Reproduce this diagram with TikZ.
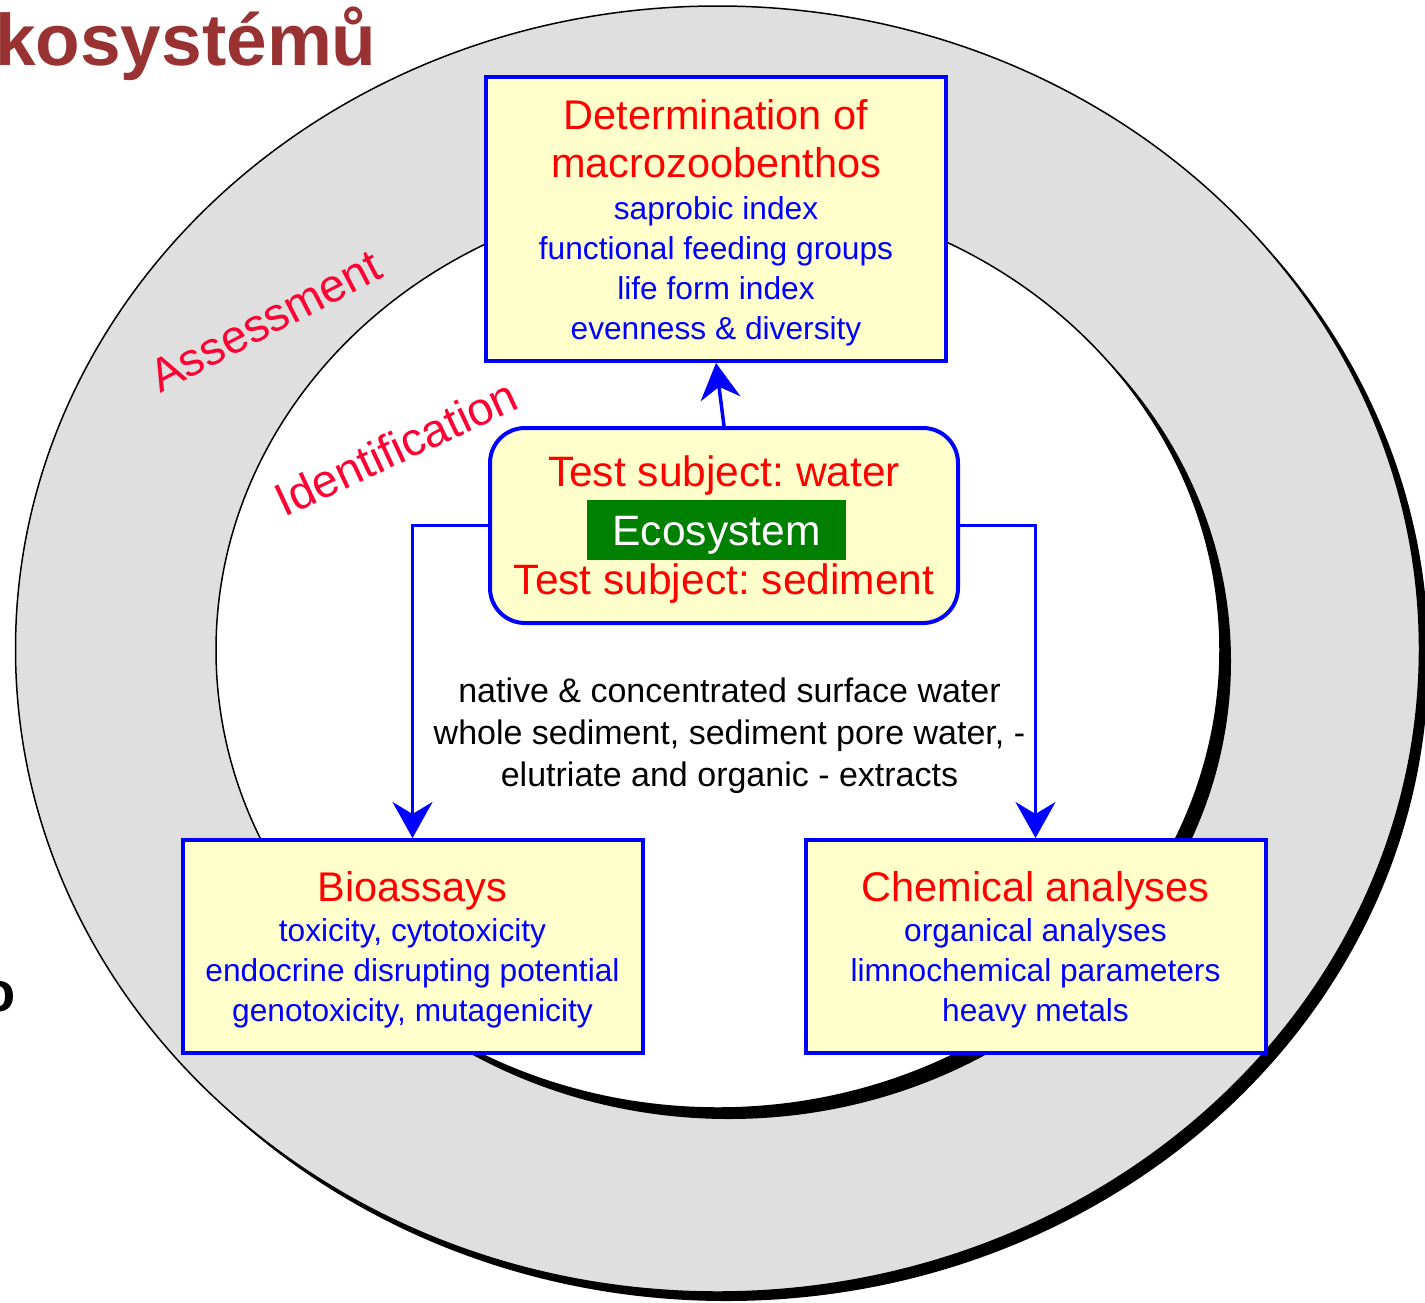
\documentclass[tikz,border=0pt]{standalone}
\usepackage{fontspec}
\setmainfont{Liberation Sans}
\usetikzlibrary{arrows.meta}
\frenchspacing

\definecolor{ringgray}{RGB}{223,223,223}
\definecolor{boxyellow}{RGB}{255,255,204}
\definecolor{ecogreen}{RGB}{0,128,0}
\definecolor{labelred}{RGB}{255,0,51}
\definecolor{titlered}{RGB}{153,51,51}

\newcommand\headfont{\fontsize{41.5}{50}\selectfont\color{red}}
\newcommand\itemfont{\fontsize{31.7}{40}\selectfont\color{blue}}

\tikzset{every picture/.style={x=1pt, y=-1pt}}
\tikzset{
  box/.style={draw=blue, fill=boxyellow, line width=4pt, minimum width=460pt,
                align=center, inner sep=0pt, font=\itemfont},
  flow/.style={draw=blue, line width=3.5pt, -{Stealth[length=36pt, width=40pt, inset=12pt]}},
  ringtext/.style={text=labelred, font=\fontsize{46.5}{56}\selectfont, inner sep=0pt},
}

\begin{document}
\begin{tikzpicture}
  \useasboundingbox (0,0) rectangle (1425,1302);
  % outer ring | shadow shifted down right
  \fill (726.5,658) ellipse [x radius=702pt, y radius=643pt];
  \draw[fill=ringgray, line width=1.5pt] (717.5,649) ellipse [x radius=702pt, y radius=643pt];
  % inner field
  \fill (729,661) ellipse [x radius=502pt, y radius=458pt];
  \draw[fill=white, line width=1.5pt] (718,650) ellipse [x radius=502pt, y radius=458pt];

  % cut off slide texts
  \node[anchor=base west, inner sep=0pt, text=titlered,
        font=\fontsize{73}{88}\selectfont\bfseries] (title) at (-5,65) {kosystémů};
  \node[anchor=base east, inner sep=0pt,
        font=\fontsize{56}{60}\selectfont\bfseries] (cut) at (16,1011) {o};

  \node[ringtext, rotate=27.5] (assess) at (265.5,321) {Assessment};
  \node[ringtext, rotate=25] (ident) at (396,447.5) {Identification};

  % boxes
  \node[box, minimum height=284pt, text depth=-7pt] (macro) at (716,219)
    {{\headfont Determination of}\\[8pt]{\headfont macrozoobenthos}\\[2pt]
     saprobic index\\functional feeding groups\\life form index\\evenness \& diversity};
  \node[box, rounded corners=35pt, minimum width=468pt, minimum height=195pt,
        text depth=-4pt, font=\headfont\fontsize{42.5}{50}\selectfont] (ecosys) at (724,525.5)
    {Test subject: water\\[58pt]Test subject: sediment};
  \node[fill=ecogreen, text=white, font=\fontsize{42.5}{50}\selectfont,
        text height=30pt, text depth=0pt,
        minimum width=259pt, minimum height=60pt] (eco) at (716.5,530) {Ecosystem};
  \node[box, minimum height=213pt, text depth=-2pt] (bio) at (412.5,946.5)
    {{\headfont Bioassays}\\toxicity, cytotoxicity\\endocrine disrupting potential\\
     genotoxicity, mutagenicity};
  \node[box, minimum height=213pt, text depth=-2pt] (chem) at (1035.5,946.5)
    {{\headfont Chemical analyses}\\organical analyses\\limnochemical parameters\\
     heavy metals};

  \node[align=center, font=\fontsize{34}{42}\selectfont] (note) at (729.5,736)
    {native \& concentrated surface water\\whole sediment, sediment pore water, -\\
     elutriate and organic - extracts};

  % connectors
  \draw[flow] (ecosys.north) -- (macro.south);
  \draw[flow] (ecosys.west) -| (bio.north);
  \draw[flow] (ecosys.east) -| (chem.north);
\end{tikzpicture}
\end{document}
